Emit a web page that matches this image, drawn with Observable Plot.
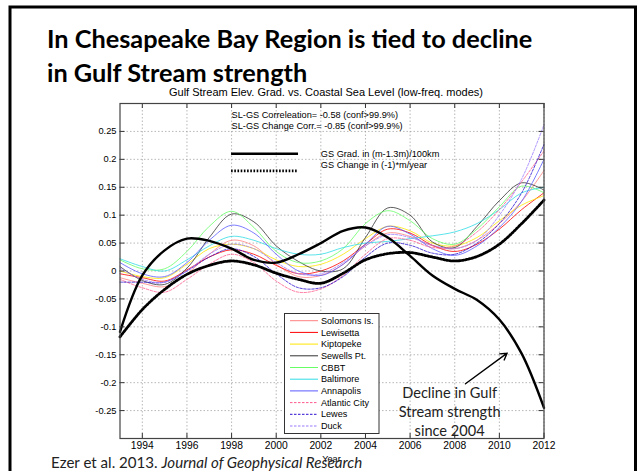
<!DOCTYPE html>
<html>
<head>
<meta charset="utf-8">
<script src="https://cdn.jsdelivr.net/npm/d3@7"></script>
<script src="https://cdn.jsdelivr.net/npm/@observablehq/plot@0.6"></script>
<style>
html, body { margin: 0; padding: 0; background: #fff; }
#chart { width: 639px; height: 471px; overflow: hidden; position: relative; background: #fff; }
</style>
</head>
<body>
<div id="chart"></div>
<script>
// ---- data ----
const years = [1993,1994,1995,1996,1997,1998,1999,2000,2001,2002,2003,2004,2005,2006,2007,2008,2009,2010,2011,2012];

const gsGrad   = [-0.109,-0.008,0.037,0.058,0.054,0.040,0.020,0.015,0.030,0.050,0.072,0.078,0.060,0.027,-0.008,-0.032,-0.052,-0.087,-0.148,-0.245];
const gsChange = [-0.118,-0.069,-0.033,-0.006,0.010,0.018,0.011,-0.004,-0.015,-0.022,-0.004,0.020,0.031,0.033,0.025,0.018,0.026,0.048,0.085,0.127];

const solomonsIs   = [-0.012,-0.022,-0.028,-0.005,0.030,0.055,0.045,0.012,-0.010,-0.008,0.012,0.045,0.068,0.062,0.045,0.040,0.055,0.085,0.125,0.180];
const lewisetta    = [-0.005,-0.012,-0.018,0.002,0.025,0.038,0.030,0.010,-0.005,0.000,0.018,0.048,0.075,0.068,0.046,0.035,0.048,0.075,0.110,0.140];
const kiptopeke    = [0.000,-0.010,-0.012,0.012,0.040,0.048,0.040,0.020,0.008,0.012,0.030,0.058,0.080,0.072,0.050,0.045,0.060,0.090,0.118,0.135];
const sewellsPt    = [0.008,-0.017,-0.024,0.005,0.060,0.102,0.088,0.045,0.017,0.000,0.004,0.060,0.113,0.100,0.052,0.042,0.080,0.126,0.158,0.145];
const cbbt         = [0.020,0.004,0.004,0.035,0.080,0.107,0.078,0.035,0.015,0.018,0.040,0.085,0.108,0.090,0.058,0.048,0.075,0.115,0.152,0.140];
const baltimore    = [0.022,0.008,0.000,0.020,0.045,0.062,0.055,0.040,0.030,0.030,0.042,0.050,0.053,0.058,0.063,0.070,0.085,0.110,0.140,0.150];
const annapolis    = [0.015,-0.005,-0.010,0.015,0.055,0.082,0.068,0.030,0.000,-0.008,0.012,0.048,0.080,0.066,0.040,0.028,0.045,0.078,0.125,0.200];
const atlanticCity = [-0.015,-0.030,-0.038,-0.015,0.012,0.030,0.015,-0.018,-0.038,-0.032,-0.008,0.030,0.058,0.055,0.042,0.045,0.070,0.110,0.160,0.215];
const lewes        = [-0.020,-0.020,-0.020,0.000,0.025,0.040,0.026,-0.005,-0.030,-0.030,-0.010,0.025,0.050,0.046,0.032,0.030,0.050,0.085,0.140,0.227];
const duck         = [0.005,-0.015,-0.020,0.000,0.030,0.048,0.040,0.015,-0.005,-0.005,0.015,0.045,0.065,0.060,0.046,0.040,0.055,0.100,0.165,0.262];

const stationNames  = ["Solomons Is.","Lewisetta","Kiptopeke","Sewells Pt.","CBBT","Baltimore","Annapolis","Atlantic City","Lewes","Duck"];
const stationValues = [solomonsIs, lewisetta, kiptopeke, sewellsPt, cbbt, baltimore, annapolis, atlanticCity, lewes, duck];
const stationColors = ["#ff8080","#ff0000","#ffe600","#333333","#66ff66","#30dce4","#5a5aff","#ff5a8c","#2a10d0","#9a7aff"];
const stationDashed = [false,false,false,false,false,false,false,true,true,true];

const xTicks = [1994,1996,1998,2000,2002,2004,2006,2008,2010,2012];
const yTicks = [-0.25,-0.2,-0.15,-0.1,-0.05,0,0.05,0.1,0.15,0.2,0.25];

// ---- layout ----
const W = 639, H = 471;
const mL = 119.5, mR = 95.5, mT = 103, mB = 33;
const frameW = W - mL - mR, frameH = H - mT - mB;
const tickLen = 5;
const fmt = d => { const s = String(+d.toFixed(2)); return s === "-0" ? "0" : s; };
const toRows = (vals, name) => years.map((yr, i) => ({year: yr, value: vals[i], station: name}));
const dotted = "1.6,1.6";
const small = 9.2;

const stationMarks = stationNames.map((name, i) =>
  Plot.line(toRows(stationValues[i], name), {
    x: "year", y: "value", curve: "catmull-rom",
    stroke: stationColors[i], strokeWidth: 0.8,
    strokeDasharray: stationDashed[i] ? "2.5,1.5" : null
  })
);

const gridStyle = {stroke: "#9a9a9a", strokeOpacity: 1, strokeWidth: 0.7, strokeDasharray: "1.5,2"};

const plot = Plot.plot({
  width: W, height: H,
  marginLeft: mL, marginRight: mR, marginTop: mT, marginBottom: mB,
  x: {domain: [1993, 2012]},
  y: {domain: [-0.3, 0.3]},
  style: {fontFamily: "'Liberation Sans', Arial, sans-serif", fontSize: "9.5px", color: "#000", background: "transparent", overflow: "visible"},
  marks: [
    Plot.gridX(xTicks, gridStyle),
    Plot.gridY(yTicks, gridStyle),
    ...stationMarks,
    Plot.line(toRows(gsChange, "GS Change"), {x: "year", y: "value", curve: "catmull-rom", stroke: "#000", strokeWidth: 2.8, strokeDasharray: dotted}),
    Plot.line(toRows(gsGrad, "GS Grad"), {x: "year", y: "value", curve: "catmull-rom", stroke: "#000", strokeWidth: 2.4}),
    Plot.ruleX(xTicks, {insetTop: frameH - tickLen, stroke: "#333"}),
    Plot.ruleX(xTicks, {insetBottom: frameH - tickLen, stroke: "#333"}),
    Plot.ruleY(yTicks, {insetRight: frameW - tickLen, stroke: "#333"}),
    Plot.ruleY(yTicks, {insetLeft: frameW - tickLen, stroke: "#333"}),
    Plot.frame({stroke: "#444", strokeWidth: 1.2}),
    Plot.axisX(xTicks, {tickSize: 0, tickPadding: 3, tickFormat: d => String(d), label: null, fontSize: 10.3}),
    Plot.axisY(yTicks, {tickSize: 0, tickPadding: 3.5, tickFormat: fmt, label: null, fontSize: 9.3}),
    Plot.text([{x: 1998, y: 0.28, t: "SL-GS Correleation= -0.58 (conf>99.9%)"}, {x: 1998, y: 0.26, t: "SL-GS Change Corr.= -0.85 (conf>99.9%)"}],
      {x: "x", y: "y", text: "t", textAnchor: "start", fontSize: small}),
    Plot.text([{x: 2002, y: 0.21, t: "GS Grad. in (m-1.3m)/100km"}, {x: 2002, y: 0.189, t: "GS Change in (-1)*m/year"}],
      {x: "x", y: "y", text: "t", textAnchor: "start", fontSize: small}),
    Plot.ruleY([{y: 0.21}], {x1: 1998, x2: 2001, y: "y", stroke: "#000", strokeWidth: 2.4}),
    Plot.ruleY([{y: 0.1795}], {x1: 1998, x2: 2001, y: "y", stroke: "#000", strokeWidth: 2.8, strokeDasharray: dotted}),
    Plot.arrow([{x1: 2008.48, y1: -0.202, x2: 2010.35, y2: -0.147}], {x1: "x1", y1: "y1", x2: "x2", y2: "y2", stroke: "#000", strokeWidth: 1.4, headLength: 8}),
    Plot.text([{x: 2007.77, y: -0.25, t: "Decline in Gulf\nStream strength\nsince 2004"}],
      {x: "x", y: "y", text: "t", fontFamily: "Lato, 'Open Sans', sans-serif", fontSize: 14.6, lineHeight: 1.3, fill: "#222"})
  ]
});

const svg = d3.select(plot);

// slide background and border
svg.insert("rect", ":first-child")
  .attr("x", 0).attr("y", 0).attr("width", W).attr("height", H).attr("fill", "#fff");
svg.append("rect")
  .attr("x", 10).attr("y", 7).attr("width", 625.5).attr("height", 500)
  .attr("fill", "none").attr("stroke", "#000").attr("stroke-width", 3);

// slide title
const title = svg.append("text")
  .attr("text-anchor", "start")
  .attr("font-family", "Lato, 'Open Sans', sans-serif").attr("font-weight", "bold")
  .attr("font-size", 25.3).attr("fill", "#000");
title.append("tspan").attr("x", 47).attr("y", 48).text("In Chesapeake Bay Region is tied to decline");
title.append("tspan").attr("x", 47).attr("y", 82).text("in Gulf Stream strength");

// chart title
svg.append("text")
  .attr("x", 326).attr("y", 96)
  .attr("text-anchor", "middle")
  .attr("font-family", "'Liberation Sans', Arial, sans-serif").attr("font-size", 11)
  .text("Gulf Stream Elev. Grad. vs. Coastal Sea Level (low-freq. modes)");

// x label
svg.append("text")
  .attr("x", (mL + W - mR) / 2).attr("y", 461.5)
  .attr("text-anchor", "middle")
  .attr("font-family", "'Liberation Sans', Arial, sans-serif").attr("font-size", small)
  .text("Year");

// station legend
const lg = svg.append("g").attr("text-anchor", "start")
  .attr("font-family", "'Liberation Sans', Arial, sans-serif").attr("font-size", 9.1);
lg.append("rect").attr("x", 284.5).attr("y", 313.5).attr("width", 94.5).attr("height", 120)
  .attr("fill", "#fff").attr("stroke", "#333").attr("stroke-width", 1);
stationNames.forEach((name, i) => {
  const yy = 320.7 + i * 11.7;
  lg.append("line").attr("x1", 290).attr("x2", 318).attr("y1", yy).attr("y2", yy)
    .attr("stroke", stationColors[i]).attr("stroke-width", 1)
    .attr("stroke-dasharray", stationDashed[i] ? "2.5,1.5" : null);
  lg.append("text").attr("x", 321).attr("y", yy).attr("dy", "0.35em").text(name);
});

// caption
const cap = svg.append("text")
  .attr("x", 51).attr("y", 468).attr("text-anchor", "start")
  .attr("font-family", "Lato, 'Open Sans', sans-serif").attr("font-size", 15.1).attr("fill", "#222");
cap.append("tspan").text("Ezer et al. 2013. ");
cap.append("tspan").attr("font-style", "italic").text("Journal of Geophysical Research");

document.getElementById("chart").appendChild(plot);
</script>
</body>
</html>
